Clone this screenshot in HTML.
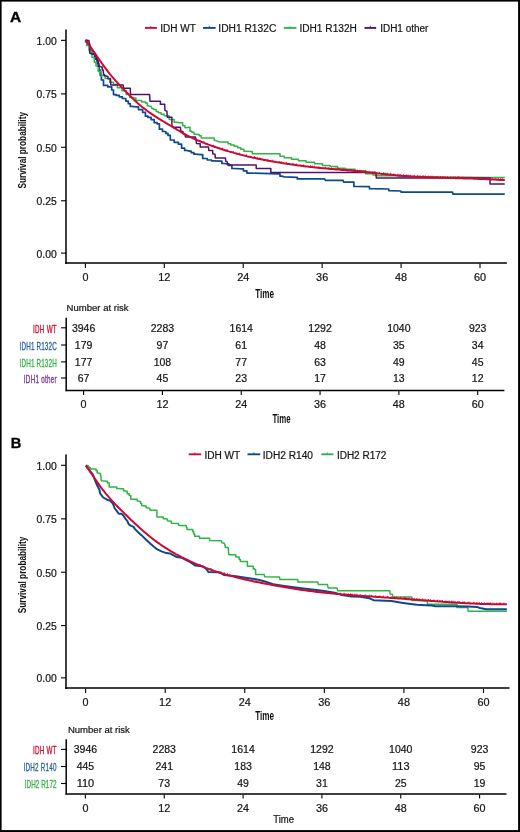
<!DOCTYPE html>
<html><head><meta charset="utf-8"><style>
html,body{margin:0;padding:0;background:#fff;}
body{width:520px;height:832px;overflow:hidden;}
svg{position:absolute;left:0;top:0;will-change:transform;font-family:"Liberation Sans", sans-serif;}
</style></head><body>
<svg width="520" height="832" viewBox="0 0 520 832">
<line x1="66" y1="29.4" x2="66" y2="264" stroke="#000" stroke-width="1.5"/>
<line x1="65.25" y1="263.1" x2="506.9" y2="263.1" stroke="#000" stroke-width="1.5"/>
<line x1="61" y1="40.35" x2="66" y2="40.35" stroke="#000" stroke-width="1.1"/>
<text x="56.8" y="44.75" font-size="10.1" text-anchor="end" fill="#111" font-weight="normal" textLength="20.2" lengthAdjust="spacingAndGlyphs" stroke="#222" stroke-width="0.22" >1.00</text>
<line x1="61" y1="93.9" x2="66" y2="93.9" stroke="#000" stroke-width="1.1"/>
<text x="56.8" y="98.30000000000001" font-size="10.1" text-anchor="end" fill="#111" font-weight="normal" textLength="20.2" lengthAdjust="spacingAndGlyphs" stroke="#222" stroke-width="0.22" >0.75</text>
<line x1="61" y1="147.3" x2="66" y2="147.3" stroke="#000" stroke-width="1.1"/>
<text x="56.8" y="151.70000000000002" font-size="10.1" text-anchor="end" fill="#111" font-weight="normal" textLength="20.2" lengthAdjust="spacingAndGlyphs" stroke="#222" stroke-width="0.22" >0.50</text>
<line x1="61" y1="200.75" x2="66" y2="200.75" stroke="#000" stroke-width="1.1"/>
<text x="56.8" y="205.15" font-size="10.1" text-anchor="end" fill="#111" font-weight="normal" textLength="20.2" lengthAdjust="spacingAndGlyphs" stroke="#222" stroke-width="0.22" >0.25</text>
<line x1="61" y1="253.1" x2="66" y2="253.1" stroke="#000" stroke-width="1.1"/>
<text x="56.8" y="257.5" font-size="10.1" text-anchor="end" fill="#111" font-weight="normal" textLength="20.2" lengthAdjust="spacingAndGlyphs" stroke="#222" stroke-width="0.22" >0.00</text>
<line x1="85.4" y1="263.5" x2="85.4" y2="268" stroke="#000" stroke-width="1.1"/>
<text x="85.4" y="281" font-size="10.1" text-anchor="middle" fill="#111" font-weight="normal" textLength="6.0" lengthAdjust="spacingAndGlyphs" stroke="#222" stroke-width="0.22" >0</text>
<line x1="164.32" y1="263.5" x2="164.32" y2="268" stroke="#000" stroke-width="1.1"/>
<text x="164.32" y="281" font-size="10.1" text-anchor="middle" fill="#111" font-weight="normal" textLength="12.1" lengthAdjust="spacingAndGlyphs" stroke="#222" stroke-width="0.22" >12</text>
<line x1="243.24" y1="263.5" x2="243.24" y2="268" stroke="#000" stroke-width="1.1"/>
<text x="243.24" y="281" font-size="10.1" text-anchor="middle" fill="#111" font-weight="normal" textLength="12.1" lengthAdjust="spacingAndGlyphs" stroke="#222" stroke-width="0.22" >24</text>
<line x1="322.15999999999997" y1="263.5" x2="322.15999999999997" y2="268" stroke="#000" stroke-width="1.1"/>
<text x="322.15999999999997" y="281" font-size="10.1" text-anchor="middle" fill="#111" font-weight="normal" textLength="12.1" lengthAdjust="spacingAndGlyphs" stroke="#222" stroke-width="0.22" >36</text>
<line x1="401.08000000000004" y1="263.5" x2="401.08000000000004" y2="268" stroke="#000" stroke-width="1.1"/>
<text x="401.08000000000004" y="281" font-size="10.1" text-anchor="middle" fill="#111" font-weight="normal" textLength="12.1" lengthAdjust="spacingAndGlyphs" stroke="#222" stroke-width="0.22" >48</text>
<line x1="480.0" y1="263.5" x2="480.0" y2="268" stroke="#000" stroke-width="1.1"/>
<text x="480.0" y="281" font-size="10.1" text-anchor="middle" fill="#111" font-weight="normal" textLength="12.1" lengthAdjust="spacingAndGlyphs" stroke="#222" stroke-width="0.22" >60</text>
<text x="255.2" y="298" font-size="12.6" text-anchor="start" fill="#111" font-weight="bold" textLength="18.8" lengthAdjust="spacingAndGlyphs" >Time</text>
<text transform="translate(25.8,188.6) rotate(-90)" font-size="11.4" font-weight="bold" fill="#111" textLength="76.6" lengthAdjust="spacingAndGlyphs">Survival probability</text>
<text x="10" y="22.4" font-size="14.6" text-anchor="start" fill="#000" font-weight="bold" textLength="11.2" lengthAdjust="spacingAndGlyphs" stroke="#000" stroke-width="0.35">A</text>
<line x1="144.9" y1="27.9" x2="156.9" y2="27.9" stroke="#cc0a36" stroke-width="1.9"/>
<line x1="150.85000000000002" y1="25.9" x2="150.85000000000002" y2="27.9" stroke="#cc0a36" stroke-width="0.8"/>
<text x="160.20000000000002" y="31.5" font-size="10" text-anchor="start" fill="#111" font-weight="normal" textLength="35.6" lengthAdjust="spacingAndGlyphs" stroke="#222" stroke-width="0.22" >IDH WT</text>
<line x1="203.0" y1="27.9" x2="215.6" y2="27.9" stroke="#0c4a8c" stroke-width="1.9"/>
<line x1="209.25" y1="25.9" x2="209.25" y2="27.9" stroke="#0c4a8c" stroke-width="0.8"/>
<text x="218.3" y="31.5" font-size="10" text-anchor="start" fill="#111" font-weight="normal" textLength="58.0" lengthAdjust="spacingAndGlyphs" stroke="#222" stroke-width="0.22" >IDH1 R132C</text>
<line x1="283.8" y1="27.9" x2="296.40000000000003" y2="27.9" stroke="#2fb546" stroke-width="1.9"/>
<line x1="290.05" y1="25.9" x2="290.05" y2="27.9" stroke="#2fb546" stroke-width="0.8"/>
<text x="299.4" y="31.5" font-size="10" text-anchor="start" fill="#111" font-weight="normal" textLength="57.5" lengthAdjust="spacingAndGlyphs" stroke="#222" stroke-width="0.22" >IDH1 R132H</text>
<line x1="364.5" y1="27.9" x2="376.20000000000005" y2="27.9" stroke="#4f1468" stroke-width="1.9"/>
<line x1="370.3" y1="25.9" x2="370.3" y2="27.9" stroke="#4f1468" stroke-width="0.8"/>
<text x="380.2" y="31.5" font-size="10" text-anchor="start" fill="#111" font-weight="normal" textLength="48.2" lengthAdjust="spacingAndGlyphs" stroke="#222" stroke-width="0.22" >IDH1 other</text>
<polyline points="85.5,40.3 86.8,40.3 86.8,44.0 88.0,44.0 89.5,44.0 89.5,50.0 91.0,50.0 92.2,50.0 92.2,54.1 93.5,54.1 95.0,54.1 95.0,59.1 96.6,59.1 97.4,59.1 97.4,63.7 98.2,63.7 99.0,63.7 99.0,70.0 99.7,70.0 100.2,70.0 100.2,75.4 100.8,75.4 101.4,75.4 101.4,80.0 102.0,80.0 103.5,80.0 103.5,85.4 105.1,85.4 107.8,85.4 107.8,86.9 110.5,86.9 111.7,86.9 111.7,90.0 112.8,90.0 113.5,90.0 113.5,94.6 114.3,94.6 116.2,94.6 116.2,95.4 118.2,95.4 119.3,95.4 119.3,96.9 120.5,96.9 122.4,96.9 122.4,98.5 124.3,98.5 125.8,98.5 125.8,101.1 127.3,101.1 128.3,101.1 128.3,103.7 130.3,103.7 130.3,106.3 131.3,106.3 136.5,106.9 138.5,106.9 138.5,109.6 142.6,109.6 142.6,112.3 144.6,112.3 145.4,112.3 145.4,116.2 146.2,116.2 147.9,116.2 147.9,117.3 149.6,117.3 151.1,117.3 151.1,119.6 152.7,119.6 154.2,119.6 154.2,122.7 155.8,122.7 157.2,122.7 157.2,123.8 158.5,123.8 159.4,123.8 159.4,129.2 160.4,129.2 162.5,129.2 162.5,131.5 164.6,131.5 165.8,131.5 165.8,133.4 168.0,133.4 168.0,135.4 169.2,135.4 170.3,135.4 170.3,140.0 171.5,140.0 174.2,140.0 174.2,142.3 176.9,142.3 178.4,142.3 178.4,144.2 180.0,144.2 181.6,144.2 181.6,148.1 183.1,148.1 184.6,148.1 184.6,150.4 186.2,150.4 190.0,151.2 191.2,151.2 191.2,152.7 192.3,152.7 193.9,152.7 193.9,154.2 195.4,154.2 200.8,154.6 202.7,154.6 202.7,158.5 204.6,158.5 207.3,158.5 207.3,160.0 210.0,160.0 211.6,160.0 211.6,160.8 213.1,160.8 220.0,161.2 221.9,161.2 221.9,163.5 223.8,163.5 226.9,163.8 228.9,163.8 228.9,165.4 230.8,165.4 231.9,165.4 231.9,168.5 233.1,168.5 242.3,168.8 243.4,168.8 243.4,170.8 244.6,170.8 246.9,170.8 246.9,173.1 249.2,173.1 278.5,173.8 280.0,173.8 280.0,176.2 281.5,176.2 284.6,176.9 296.9,177.4 297.3,177.4 297.3,178.9 297.7,178.9 324.6,178.9 325.4,180.4 343.1,180.4 343.8,182.2 352.3,182.2 353.9,182.2 353.9,186.5 355.4,186.5 369.0,186.7 369.5,186.7 369.5,188.7 370.0,188.7 388.3,189.0 388.8,189.0 388.8,190.6 389.2,190.6 400.8,191.0 401.2,192.1 452.5,192.1 452.9,194.1 504.8,194.1" fill="none" stroke="#0c4a8c" stroke-width="1.7" stroke-linejoin="round" stroke-linecap="butt" />
<polyline points="85.5,40.3 85.5,42.2 86.7,42.2 86.7,45.6 87.8,45.6 89.3,45.6 89.3,51.0 90.8,51.0 92.0,51.0 92.0,57.5 93.2,57.5 94.3,57.5 94.3,62.2 95.5,62.2 96.0,62.2 96.0,66.0 96.6,66.0 98.2,66.0 98.2,71.5 99.7,71.5 101.2,71.5 101.2,75.4 102.8,75.4 105.1,75.4 105.1,78.5 107.4,78.5 109.7,78.5 109.7,82.3 112.0,82.3 113.5,82.3 113.5,84.6 115.1,84.6 117.4,84.6 117.4,87.7 119.7,87.7 122.0,87.7 122.0,90.8 124.3,90.8 126.2,90.8 126.2,94.6 128.2,94.6 129.7,94.6 129.7,97.5 131.2,97.5 133.0,97.9 135.9,97.9 135.9,100.6 138.8,100.6 141.7,100.6 141.7,102.0 144.6,102.0 145.6,102.0 145.6,103.1 146.5,103.1 147.3,103.1 147.3,105.8 148.1,105.8 151.2,106.5 151.9,108.5 153.4,108.5 153.4,109.6 155.0,109.6 156.2,109.6 156.2,111.5 157.3,111.5 158.4,111.5 158.4,112.7 159.6,112.7 161.1,112.7 161.1,114.2 162.7,114.2 164.2,114.2 164.2,115.8 165.8,115.8 169.2,115.8 169.2,119.6 172.7,119.6 174.2,119.6 174.2,122.3 175.8,122.3 180.4,122.7 181.5,122.7 182.7,122.7 182.7,125.8 183.8,125.8 185.0,125.8 185.0,127.7 186.2,127.7 189.2,127.3 190.0,127.3 190.0,131.2 190.8,131.2 191.9,131.2 191.9,132.3 193.1,132.3 194.1,132.3 194.1,134.2 195.0,134.2 198.5,134.6 199.2,134.6 199.2,135.8 200.0,135.8 201.2,135.8 201.2,138.1 202.3,138.1 213.1,138.1 214.2,138.1 214.2,140.4 215.4,140.4 217.7,141.2 219.2,141.9 226.9,141.9 228.1,141.9 228.1,143.8 229.2,143.8 230.8,143.8 230.8,145.0 232.3,145.0 234.2,145.0 234.2,146.2 236.2,146.2 237.7,146.2 237.7,147.7 239.2,147.7 240.8,147.7 240.8,149.2 242.3,149.2 243.9,149.2 243.9,151.2 245.4,151.2 251.5,151.5 252.3,151.5 252.3,153.8 253.1,153.8 279.2,153.8 280.0,153.8 280.0,156.2 280.8,156.2 284.2,156.2 284.2,157.7 287.7,157.7 291.5,157.7 291.5,159.2 295.4,159.2 298.4,159.2 298.4,160.8 301.5,160.8 306.1,160.8 306.1,162.3 310.8,162.3 314.6,162.3 314.6,163.8 318.5,163.8 322.4,163.8 322.4,165.4 326.2,165.4 330.0,165.4 330.0,166.6 333.8,166.6 337.6,166.6 337.6,168.2 341.5,168.2 345.4,168.2 345.4,169.2 349.2,169.2 355.2,169.2 355.2,170.8 361.3,170.8 365.6,170.8 365.6,173.7 370.0,173.7 372.9,173.7 372.9,175.0 375.8,175.0 376.8,175.0 376.8,175.8 377.7,175.8 398.9,175.8 398.9,176.8 420.0,176.8 489.2,177.6 504.8,177.6" fill="none" stroke="#2fb546" stroke-width="1.5" stroke-linejoin="round" stroke-linecap="butt" />
<polyline points="85.3,40.2 88.9,40.6 89.7,45.6 89.7,53.3 91.2,53.3 91.2,54.1 92.6,54.1 94.5,54.1 94.5,56.2 96.4,56.2 96.9,61.0 98.3,61.0 98.3,66.2 99.7,66.2 101.2,66.9 102.2,66.9 102.2,70.0 103.2,70.0 103.5,74.6 104.5,74.6 104.5,75.8 105.5,75.8 107.4,76.5 108.0,76.5 108.0,78.8 108.5,78.8 110.5,78.6 110.8,85.0 123.2,85.0 123.5,88.3 130.3,88.3 130.5,94.6 149.6,94.6 150.0,101.2 160.4,101.2 160.4,104.2 164.6,104.2 165.0,110.4 166.9,111.2 167.3,117.3 171.2,117.3 171.9,117.3 171.9,126.2 172.7,126.2 173.1,127.3 180.4,127.3 180.8,131.2 182.3,131.5 182.9,131.5 182.9,133.8 183.5,133.8 185.0,134.2 185.4,136.9 195.0,136.9 195.4,136.9 195.4,138.1 195.8,138.1 196.5,143.5 199.6,143.8 200.2,143.8 200.2,146.9 200.8,146.9 208.5,146.9 208.8,150.4 212.7,150.4 212.7,153.8 215.0,154.2 215.4,158.1 225.4,158.1 225.8,161.2 227.3,161.9 227.7,165.0 256.2,165.0 256.2,168.5 270.8,168.5 270.8,172.4 375.8,172.6 376.3,178.0 490.0,178.0 490.0,184.1 504.8,184.1" fill="none" stroke="#4f1468" stroke-width="1.5" stroke-linejoin="round" stroke-linecap="butt" />
<polyline points="85.5,40.3 87.0,42.2 88.5,44.2 90.0,46.2 91.5,48.3 93.0,50.5 94.5,52.6 96.0,54.8 97.5,57.0 99.0,59.2 100.5,61.4 102.0,63.5 103.5,65.6 105.0,67.7 106.5,69.7 108.0,71.7 109.5,73.6 111.0,75.4 112.5,77.2 114.0,78.9 115.5,80.6 117.0,82.3 118.5,83.9 120.0,85.5 121.5,87.1 123.0,88.6 124.5,90.2 126.0,91.8 127.5,93.3 129.0,94.8 130.5,96.3 132.0,97.8 133.5,99.3 135.0,100.7 136.5,102.1 138.0,103.4 139.5,104.7 141.0,106.0 142.5,107.2 144.0,108.4 145.5,109.5 147.0,110.7 148.5,111.8 150.0,112.8 151.5,113.9 153.0,114.9 154.5,115.9 156.0,116.8 157.5,117.8 159.0,118.8 160.5,119.7 162.0,120.6 163.5,121.5 165.0,122.4 166.5,123.3 168.0,124.2 169.5,125.1 171.0,126.0 172.5,126.9 174.0,127.8 175.5,128.7 177.0,129.6 178.5,130.5 180.0,131.4 181.5,132.3 183.0,133.1 184.5,134.0 186.0,134.8 187.5,135.6 189.0,136.4 190.5,137.1 192.0,137.8 193.5,138.5 195.0,139.2 196.5,139.8 198.0,140.5 199.5,141.1 201.0,141.7 202.5,142.3 204.0,142.9 205.5,143.5 207.0,144.0 208.5,144.6 210.0,145.1 211.5,145.7 213.0,146.2 214.5,146.7 216.0,147.3 217.5,147.8 219.0,148.3 220.5,148.8 222.0,149.2 223.5,149.7 225.0,150.2 226.5,150.7 228.0,151.1 229.5,151.6 231.0,152.0 232.5,152.4 234.0,152.9 235.5,153.3 237.0,153.7 238.5,154.1 240.0,154.5 241.5,154.9 243.0,155.3 244.5,155.6 246.0,156.0 247.5,156.4 249.0,156.7 250.5,157.0 252.0,157.4 253.5,157.7 255.0,158.0 256.5,158.4 258.0,158.7 259.5,159.0 261.0,159.3 262.5,159.6 264.0,159.9 265.5,160.1 267.0,160.4 268.5,160.7 270.0,160.9 271.5,161.2 273.0,161.5 274.5,161.7 276.0,162.0 277.5,162.2 279.0,162.5 280.5,162.7 282.0,163.0 283.5,163.2 285.0,163.4 286.5,163.7 288.0,163.9 289.5,164.1 291.0,164.4 292.5,164.6 294.0,164.8 295.5,165.0 297.0,165.2 298.5,165.4 300.0,165.6 301.5,165.8 303.0,166.0 304.5,166.2 306.0,166.4 307.5,166.6 309.0,166.8 310.5,166.9 312.0,167.1 313.5,167.3 315.0,167.4 316.5,167.6 318.0,167.8 319.5,167.9 321.0,168.0 322.5,168.2 324.0,168.3 325.5,168.5 327.0,168.6 328.5,168.7 330.0,168.9 331.5,169.0 333.0,169.1 334.5,169.2 336.0,169.4 337.5,169.5 339.0,169.6 340.5,169.7 342.0,169.9 343.5,170.0 345.0,170.1 346.5,170.2 348.0,170.4 349.5,170.5 351.0,170.6 352.5,170.8 354.0,170.9 355.5,171.0 357.0,171.2 358.5,171.3 360.0,171.5 361.5,171.6 363.0,171.8 364.5,171.9 366.0,172.1 367.5,172.3 369.0,172.4 370.5,172.6 372.0,172.7 373.5,172.9 375.0,173.1 376.5,173.2 378.0,173.4 379.5,173.6 381.0,173.7 382.5,173.9 384.0,174.1 385.5,174.2 387.0,174.4 388.5,174.5 390.0,174.7 391.5,174.8 393.0,175.0 394.5,175.1 396.0,175.3 397.5,175.4 399.0,175.5 400.5,175.6 402.0,175.8 403.5,175.9 405.0,176.0 406.5,176.1 408.0,176.2 409.5,176.3 411.0,176.4 412.5,176.5 414.0,176.6 415.5,176.7 417.0,176.7 418.5,176.8 420.0,176.9 421.5,177.0 423.0,177.1 424.5,177.1 426.0,177.2 427.5,177.2 429.0,177.3 430.5,177.4 432.0,177.4 433.5,177.5 435.0,177.5 436.5,177.6 438.0,177.6 439.5,177.7 441.0,177.7 442.5,177.8 444.0,177.8 445.5,177.9 447.0,177.9 448.5,178.0 450.0,178.0 451.5,178.0 453.0,178.1 454.5,178.1 456.0,178.2 457.5,178.2 459.0,178.2 460.5,178.3 462.0,178.3 463.5,178.4 465.0,178.4 466.5,178.5 468.0,178.5 469.5,178.6 471.0,178.6 472.5,178.6 474.0,178.7 475.5,178.7 477.0,178.8 478.5,178.9 480.0,178.9 481.5,179.0 483.0,179.0 484.5,179.1 486.0,179.2 487.5,179.2 489.0,179.3 490.5,179.4 492.0,179.4 493.5,179.5 495.0,179.6 496.5,179.7 498.0,179.8 499.5,179.9 501.0,179.9 502.5,180.0 504.0,180.1 504.8,180.2" fill="none" stroke="#cc0a36" stroke-width="2.0" stroke-linejoin="round" stroke-linecap="butt" />
<path d="M200.0,141.3V139.6M203.9,142.9V141.2M213.7,146.5V144.8M222.5,149.4V147.7M227.1,150.8V149.1M233.4,152.7V151.0M239.3,154.3V152.6M246.5,156.1V154.4M254.5,157.9V156.2M257.4,158.6V156.9M259.9,159.1V157.4M267.8,160.6V158.9M272.8,161.4V159.7M279.8,162.6V160.9M281.9,162.9V161.2M286.6,163.7V162.0M293.0,164.6V162.9M296.3,165.1V163.4M303.6,166.1V164.4M310.4,166.9V165.2M312.4,167.2V165.5M314.3,167.4V165.7M318.9,167.8V166.1M325.4,168.5V166.8M328.9,168.8V167.1M331.6,169.0V167.3M335.2,169.3V167.6M336.9,169.4V167.7M339.4,169.7V168.0M343.0,170.0V168.3M346.7,170.3V168.6M349.1,170.5V168.8M351.5,170.7V169.0M353.9,170.9V169.2M357.2,171.2V169.5M359.7,171.4V169.7M361.1,171.6V169.9M365.7,172.1V170.4M369.1,172.4V170.7M372.8,172.8V171.1M374.7,173.0V171.3M379.4,173.6V171.9M383.5,174.0V172.3M385.0,174.2V172.5M387.2,174.4V172.7M390.6,174.7V173.0M393.9,175.1V173.4M397.8,175.4V173.7M400.0,175.6V173.9M403.4,175.9V174.2M406.3,176.1V174.4M408.1,176.2V174.5M410.7,176.4V174.7M414.2,176.6V174.9M417.6,176.8V175.1M420.1,176.9V175.2M422.7,177.0V175.3M423.8,177.1V175.4M425.4,177.2V175.5M428.7,177.3V175.6M430.8,177.4V175.7M432.3,177.4V175.7M434.8,177.5V175.8M437.8,177.6V175.9M440.7,177.7V176.0M442.8,177.8V176.1M445.0,177.9V176.2M447.4,177.9V176.2M450.6,178.0V176.3M453.1,178.1V176.4M455.2,178.1V176.4M457.5,178.2V176.5M458.6,178.2V176.5M459.7,178.3V176.6M462.7,178.3V176.6M466.4,178.5V176.8M469.1,178.5V176.8M471.2,178.6V176.9M472.7,178.7V177.0M475.1,178.7V177.0M478.9,178.9V177.2M482.0,179.0V177.3M484.5,179.1V177.4M488.0,179.2V177.5M489.6,179.3V177.6M492.1,179.4V177.7M495.8,179.6V177.9M498.4,179.8V178.1M500.7,179.9V178.2M502.4,180.0V178.3" stroke="#cc0a36" stroke-width="0.9" fill="none"/>
<text x="66.6" y="310.7" font-size="9.6" text-anchor="start" fill="#111" font-weight="normal" textLength="62" lengthAdjust="spacingAndGlyphs" stroke="#222" stroke-width="0.22" >Number at risk</text>
<line x1="66.2" y1="317.7" x2="66.2" y2="391.2" stroke="#000" stroke-width="1.5"/>
<line x1="65.5" y1="390.5" x2="504.4" y2="390.5" stroke="#000" stroke-width="1.5"/>
<line x1="61" y1="327.8" x2="66" y2="327.8" stroke="#000" stroke-width="1.1"/>
<text transform="translate(33.00,332.70) scale(0.6,1)" x="0" y="0" font-size="10.5" fill="#c8102e" stroke="#c8102e" stroke-width="0.35" textLength="39.5" lengthAdjust="spacing">IDH WT</text>
<text x="83.6" y="331.6" font-size="10.1" text-anchor="middle" fill="#111" font-weight="normal" textLength="23.4" lengthAdjust="spacingAndGlyphs" stroke="#222" stroke-width="0.22" >3946</text>
<text x="162.42" y="331.6" font-size="10.1" text-anchor="middle" fill="#111" font-weight="normal" textLength="23.4" lengthAdjust="spacingAndGlyphs" stroke="#222" stroke-width="0.22" >2283</text>
<text x="241.23999999999998" y="331.6" font-size="10.1" text-anchor="middle" fill="#111" font-weight="normal" textLength="23.4" lengthAdjust="spacingAndGlyphs" stroke="#222" stroke-width="0.22" >1614</text>
<text x="320.05999999999995" y="331.6" font-size="10.1" text-anchor="middle" fill="#111" font-weight="normal" textLength="23.4" lengthAdjust="spacingAndGlyphs" stroke="#222" stroke-width="0.22" >1292</text>
<text x="398.88" y="331.6" font-size="10.1" text-anchor="middle" fill="#111" font-weight="normal" textLength="23.4" lengthAdjust="spacingAndGlyphs" stroke="#222" stroke-width="0.22" >1040</text>
<text x="477.69999999999993" y="331.6" font-size="10.1" text-anchor="middle" fill="#111" font-weight="normal" textLength="17.5" lengthAdjust="spacingAndGlyphs" stroke="#222" stroke-width="0.22" >923</text>
<line x1="61" y1="345.0" x2="66" y2="345.0" stroke="#000" stroke-width="1.1"/>
<text transform="translate(19.60,349.90) scale(0.6,1)" x="0" y="0" font-size="10.5" fill="#2a64a3" stroke="#2a64a3" stroke-width="0.35" textLength="61.8" lengthAdjust="spacing">IDH1 R132C</text>
<text x="83.6" y="348.8" font-size="10.1" text-anchor="middle" fill="#111" font-weight="normal" textLength="17.5" lengthAdjust="spacingAndGlyphs" stroke="#222" stroke-width="0.22" >179</text>
<text x="162.42" y="348.8" font-size="10.1" text-anchor="middle" fill="#111" font-weight="normal" textLength="11.7" lengthAdjust="spacingAndGlyphs" stroke="#222" stroke-width="0.22" >97</text>
<text x="241.23999999999998" y="348.8" font-size="10.1" text-anchor="middle" fill="#111" font-weight="normal" textLength="11.7" lengthAdjust="spacingAndGlyphs" stroke="#222" stroke-width="0.22" >61</text>
<text x="320.05999999999995" y="348.8" font-size="10.1" text-anchor="middle" fill="#111" font-weight="normal" textLength="11.7" lengthAdjust="spacingAndGlyphs" stroke="#222" stroke-width="0.22" >48</text>
<text x="398.88" y="348.8" font-size="10.1" text-anchor="middle" fill="#111" font-weight="normal" textLength="11.7" lengthAdjust="spacingAndGlyphs" stroke="#222" stroke-width="0.22" >35</text>
<text x="477.69999999999993" y="348.8" font-size="10.1" text-anchor="middle" fill="#111" font-weight="normal" textLength="11.7" lengthAdjust="spacingAndGlyphs" stroke="#222" stroke-width="0.22" >34</text>
<line x1="61" y1="361.9" x2="66" y2="361.9" stroke="#000" stroke-width="1.1"/>
<text transform="translate(19.60,366.80) scale(0.6,1)" x="0" y="0" font-size="10.5" fill="#37b34a" stroke="#37b34a" stroke-width="0.35" textLength="61.8" lengthAdjust="spacing">IDH1 R132H</text>
<text x="83.6" y="365.7" font-size="10.1" text-anchor="middle" fill="#111" font-weight="normal" textLength="17.5" lengthAdjust="spacingAndGlyphs" stroke="#222" stroke-width="0.22" >177</text>
<text x="162.42" y="365.7" font-size="10.1" text-anchor="middle" fill="#111" font-weight="normal" textLength="17.5" lengthAdjust="spacingAndGlyphs" stroke="#222" stroke-width="0.22" >108</text>
<text x="241.23999999999998" y="365.7" font-size="10.1" text-anchor="middle" fill="#111" font-weight="normal" textLength="11.7" lengthAdjust="spacingAndGlyphs" stroke="#222" stroke-width="0.22" >77</text>
<text x="320.05999999999995" y="365.7" font-size="10.1" text-anchor="middle" fill="#111" font-weight="normal" textLength="11.7" lengthAdjust="spacingAndGlyphs" stroke="#222" stroke-width="0.22" >63</text>
<text x="398.88" y="365.7" font-size="10.1" text-anchor="middle" fill="#111" font-weight="normal" textLength="11.7" lengthAdjust="spacingAndGlyphs" stroke="#222" stroke-width="0.22" >49</text>
<text x="477.69999999999993" y="365.7" font-size="10.1" text-anchor="middle" fill="#111" font-weight="normal" textLength="11.7" lengthAdjust="spacingAndGlyphs" stroke="#222" stroke-width="0.22" >45</text>
<line x1="61" y1="378.0" x2="66" y2="378.0" stroke="#000" stroke-width="1.1"/>
<text transform="translate(23.80,382.90) scale(0.6,1)" x="0" y="0" font-size="10.5" fill="#74368f" stroke="#74368f" stroke-width="0.35" textLength="54.8" lengthAdjust="spacing">IDH1 other</text>
<text x="83.6" y="381.8" font-size="10.1" text-anchor="middle" fill="#111" font-weight="normal" textLength="11.7" lengthAdjust="spacingAndGlyphs" stroke="#222" stroke-width="0.22" >67</text>
<text x="162.42" y="381.8" font-size="10.1" text-anchor="middle" fill="#111" font-weight="normal" textLength="11.7" lengthAdjust="spacingAndGlyphs" stroke="#222" stroke-width="0.22" >45</text>
<text x="241.23999999999998" y="381.8" font-size="10.1" text-anchor="middle" fill="#111" font-weight="normal" textLength="11.7" lengthAdjust="spacingAndGlyphs" stroke="#222" stroke-width="0.22" >23</text>
<text x="320.05999999999995" y="381.8" font-size="10.1" text-anchor="middle" fill="#111" font-weight="normal" textLength="11.7" lengthAdjust="spacingAndGlyphs" stroke="#222" stroke-width="0.22" >17</text>
<text x="398.88" y="381.8" font-size="10.1" text-anchor="middle" fill="#111" font-weight="normal" textLength="11.7" lengthAdjust="spacingAndGlyphs" stroke="#222" stroke-width="0.22" >13</text>
<text x="477.69999999999993" y="381.8" font-size="10.1" text-anchor="middle" fill="#111" font-weight="normal" textLength="11.7" lengthAdjust="spacingAndGlyphs" stroke="#222" stroke-width="0.22" >12</text>
<line x1="83.6" y1="391" x2="83.6" y2="395" stroke="#000" stroke-width="1.1"/>
<text x="83.6" y="408.2" font-size="10.2" text-anchor="middle" fill="#111" font-weight="normal" textLength="6.0" lengthAdjust="spacingAndGlyphs" stroke="#222" stroke-width="0.22" >0</text>
<line x1="162.42" y1="391" x2="162.42" y2="395" stroke="#000" stroke-width="1.1"/>
<text x="162.42" y="408.2" font-size="10.2" text-anchor="middle" fill="#111" font-weight="normal" textLength="12.0" lengthAdjust="spacingAndGlyphs" stroke="#222" stroke-width="0.22" >12</text>
<line x1="241.23999999999998" y1="391" x2="241.23999999999998" y2="395" stroke="#000" stroke-width="1.1"/>
<text x="241.23999999999998" y="408.2" font-size="10.2" text-anchor="middle" fill="#111" font-weight="normal" textLength="12.0" lengthAdjust="spacingAndGlyphs" stroke="#222" stroke-width="0.22" >24</text>
<line x1="320.05999999999995" y1="391" x2="320.05999999999995" y2="395" stroke="#000" stroke-width="1.1"/>
<text x="320.05999999999995" y="408.2" font-size="10.2" text-anchor="middle" fill="#111" font-weight="normal" textLength="12.0" lengthAdjust="spacingAndGlyphs" stroke="#222" stroke-width="0.22" >36</text>
<line x1="398.88" y1="391" x2="398.88" y2="395" stroke="#000" stroke-width="1.1"/>
<text x="398.88" y="408.2" font-size="10.2" text-anchor="middle" fill="#111" font-weight="normal" textLength="12.0" lengthAdjust="spacingAndGlyphs" stroke="#222" stroke-width="0.22" >48</text>
<line x1="477.69999999999993" y1="391" x2="477.69999999999993" y2="395" stroke="#000" stroke-width="1.1"/>
<text x="477.69999999999993" y="408.2" font-size="10.2" text-anchor="middle" fill="#111" font-weight="normal" textLength="12.0" lengthAdjust="spacingAndGlyphs" stroke="#222" stroke-width="0.22" >60</text>
<text x="272.4" y="423.1" font-size="12.3" text-anchor="start" fill="#111" font-weight="bold" textLength="18.2" lengthAdjust="spacingAndGlyphs" >Time</text>
<line x1="66" y1="454.5" x2="66" y2="689" stroke="#000" stroke-width="1.5"/>
<line x1="65.25" y1="688.0" x2="509.5" y2="688.0" stroke="#000" stroke-width="1.5"/>
<line x1="61" y1="465.3" x2="66" y2="465.3" stroke="#000" stroke-width="1.1"/>
<text x="56.8" y="469.7" font-size="10.1" text-anchor="end" fill="#111" font-weight="normal" textLength="20.2" lengthAdjust="spacingAndGlyphs" stroke="#222" stroke-width="0.22" >1.00</text>
<line x1="61" y1="518.85" x2="66" y2="518.85" stroke="#000" stroke-width="1.1"/>
<text x="56.8" y="523.25" font-size="10.1" text-anchor="end" fill="#111" font-weight="normal" textLength="20.2" lengthAdjust="spacingAndGlyphs" stroke="#222" stroke-width="0.22" >0.75</text>
<line x1="61" y1="572.2" x2="66" y2="572.2" stroke="#000" stroke-width="1.1"/>
<text x="56.8" y="576.6" font-size="10.1" text-anchor="end" fill="#111" font-weight="normal" textLength="20.2" lengthAdjust="spacingAndGlyphs" stroke="#222" stroke-width="0.22" >0.50</text>
<line x1="61" y1="625.6" x2="66" y2="625.6" stroke="#000" stroke-width="1.1"/>
<text x="56.8" y="630.0" font-size="10.1" text-anchor="end" fill="#111" font-weight="normal" textLength="20.2" lengthAdjust="spacingAndGlyphs" stroke="#222" stroke-width="0.22" >0.25</text>
<line x1="61" y1="677.85" x2="66" y2="677.85" stroke="#000" stroke-width="1.1"/>
<text x="56.8" y="682.25" font-size="10.1" text-anchor="end" fill="#111" font-weight="normal" textLength="20.2" lengthAdjust="spacingAndGlyphs" stroke="#222" stroke-width="0.22" >0.00</text>
<line x1="85.6" y1="688.5" x2="85.6" y2="693" stroke="#000" stroke-width="1.1"/>
<text x="85.6" y="705.5" font-size="10.1" text-anchor="middle" fill="#111" font-weight="normal" textLength="6.0" lengthAdjust="spacingAndGlyphs" stroke="#222" stroke-width="0.22" >0</text>
<line x1="165.18" y1="688.5" x2="165.18" y2="693" stroke="#000" stroke-width="1.1"/>
<text x="165.18" y="705.5" font-size="10.1" text-anchor="middle" fill="#111" font-weight="normal" textLength="12.1" lengthAdjust="spacingAndGlyphs" stroke="#222" stroke-width="0.22" >12</text>
<line x1="244.76" y1="688.5" x2="244.76" y2="693" stroke="#000" stroke-width="1.1"/>
<text x="244.76" y="705.5" font-size="10.1" text-anchor="middle" fill="#111" font-weight="normal" textLength="12.1" lengthAdjust="spacingAndGlyphs" stroke="#222" stroke-width="0.22" >24</text>
<line x1="324.34000000000003" y1="688.5" x2="324.34000000000003" y2="693" stroke="#000" stroke-width="1.1"/>
<text x="324.34000000000003" y="705.5" font-size="10.1" text-anchor="middle" fill="#111" font-weight="normal" textLength="12.1" lengthAdjust="spacingAndGlyphs" stroke="#222" stroke-width="0.22" >36</text>
<line x1="403.91999999999996" y1="688.5" x2="403.91999999999996" y2="693" stroke="#000" stroke-width="1.1"/>
<text x="403.91999999999996" y="705.5" font-size="10.1" text-anchor="middle" fill="#111" font-weight="normal" textLength="12.1" lengthAdjust="spacingAndGlyphs" stroke="#222" stroke-width="0.22" >48</text>
<line x1="483.5" y1="688.5" x2="483.5" y2="693" stroke="#000" stroke-width="1.1"/>
<text x="483.5" y="705.5" font-size="10.1" text-anchor="middle" fill="#111" font-weight="normal" textLength="12.1" lengthAdjust="spacingAndGlyphs" stroke="#222" stroke-width="0.22" >60</text>
<text x="255.2" y="720.4" font-size="12.6" text-anchor="start" fill="#111" font-weight="bold" textLength="18.8" lengthAdjust="spacingAndGlyphs" >Time</text>
<text transform="translate(25.8,613.3) rotate(-90)" font-size="11.4" font-weight="bold" fill="#111" textLength="76.6" lengthAdjust="spacingAndGlyphs">Survival probability</text>
<text x="10.7" y="448.2" font-size="14.8" text-anchor="start" fill="#000" font-weight="bold" textLength="10.6" lengthAdjust="spacingAndGlyphs" stroke="#000" stroke-width="0.35">B</text>
<line x1="188.7" y1="454.3" x2="201.1" y2="454.3" stroke="#cc0a36" stroke-width="1.9"/>
<line x1="194.85" y1="452.3" x2="194.85" y2="454.3" stroke="#cc0a36" stroke-width="0.8"/>
<text x="204.4" y="458.5" font-size="10" text-anchor="start" fill="#111" font-weight="normal" textLength="35.9" lengthAdjust="spacingAndGlyphs" stroke="#222" stroke-width="0.22" >IDH WT</text>
<line x1="247.5" y1="454.3" x2="260.20000000000005" y2="454.3" stroke="#0c4a8c" stroke-width="1.9"/>
<line x1="253.8" y1="452.3" x2="253.8" y2="454.3" stroke="#0c4a8c" stroke-width="0.8"/>
<text x="262.8" y="458.5" font-size="10" text-anchor="start" fill="#111" font-weight="normal" textLength="50.2" lengthAdjust="spacingAndGlyphs" stroke="#222" stroke-width="0.22" >IDH2 R140</text>
<line x1="321.4" y1="454.3" x2="333.40000000000003" y2="454.3" stroke="#2fb546" stroke-width="1.9"/>
<line x1="327.35" y1="452.3" x2="327.35" y2="454.3" stroke="#2fb546" stroke-width="0.8"/>
<text x="336.90000000000003" y="458.5" font-size="10" text-anchor="start" fill="#111" font-weight="normal" textLength="49.4" lengthAdjust="spacingAndGlyphs" stroke="#222" stroke-width="0.22" >IDH2 R172</text>
<polyline points="85.9,465.3 87.8,465.8 88.3,465.8 88.3,467.2 88.8,467.2 90.0,467.2 90.0,469.1 91.2,469.1 95.5,469.1 96.0,469.1 96.0,470.6 96.5,470.6 97.2,470.6 97.2,473.0 97.9,473.0 100.3,473.5 100.8,475.9 101.3,480.7 106.6,481.2 107.5,481.2 107.5,483.1 108.5,483.1 109.2,483.1 109.2,486.9 110.0,486.9 115.7,486.9 116.7,486.9 116.7,488.4 117.7,488.4 122.5,488.8 123.5,488.8 123.5,490.8 124.4,490.8 126.3,491.2 127.2,491.2 127.2,493.7 128.2,493.7 129.2,493.7 129.2,495.4 130.2,495.4 130.8,495.4 130.8,499.2 136.7,499.2 137.2,499.2 137.2,501.1 137.7,501.1 140.1,501.5 140.6,501.5 140.6,503.5 141.1,503.5 141.6,503.5 141.6,505.4 142.0,505.4 145.4,505.9 146.1,505.9 146.1,507.8 146.8,507.8 149.7,508.3 150.2,510.2 156.4,510.2 156.9,510.2 156.9,516.9 157.4,516.9 162.7,516.9 163.2,516.9 163.2,518.8 163.7,518.8 167.0,518.8 167.5,520.8 170.9,521.3 171.4,521.3 171.4,523.3 171.8,523.3 178.4,523.5 178.8,525.4 186.1,525.4 186.5,527.5 187.0,527.5 187.0,529.6 187.5,529.6 192.3,529.6 192.8,529.6 192.8,531.8 193.3,531.8 193.8,531.8 193.8,534.2 194.2,534.2 194.7,534.2 194.7,536.3 195.2,536.3 199.0,536.3 199.5,536.3 199.5,538.3 200.0,538.3 209.1,538.3 209.6,538.3 209.6,540.5 210.1,540.5 221.4,540.7 221.9,542.7 224.3,543.2 224.8,545.1 225.3,545.1 225.3,547.5 225.8,547.5 228.2,547.5 228.7,554.7 235.4,554.7 235.9,554.7 235.9,557.1 236.3,557.1 238.8,557.1 239.2,557.1 239.2,559.5 239.7,559.5 240.4,559.5 240.4,561.4 241.2,561.4 246.9,561.4 247.4,561.4 247.4,566.3 247.9,566.3 252.7,566.3 253.2,566.3 253.2,568.7 253.7,568.7 254.4,568.7 254.4,569.6 255.1,569.6 255.6,569.6 255.6,574.4 256.1,574.4 264.2,574.4 264.7,576.8 279.4,576.9 280.0,579.6 297.7,579.6 298.1,582.1 317.9,582.1 318.5,584.6 327.5,584.6 328.1,587.9 337.1,587.9 337.7,590.8 389.8,590.8 390.1,594.0 392.5,594.2 392.7,596.9 411.7,597.1 412.1,600.6 427.3,600.8 427.5,604.2 456.9,604.3 456.9,607.4 467.7,607.4 468.2,611.2 506.9,611.2" fill="none" stroke="#2fb546" stroke-width="1.5" stroke-linejoin="round" stroke-linecap="butt" />
<polyline points="85.9,465.6 87.8,468.3 89.8,470.6 92.7,474.4 94.6,479.2 96.5,484.0 99.4,489.8 100.3,493.7 103.2,497.5 107.1,499.7 110.0,500.5 112.9,503.7 114.8,508.5 116.7,510.9 118.7,513.8 121.5,513.8 123.5,515.7 125.4,518.6 127.3,521.0 128.8,524.3 131.2,525.8 133.6,526.9 135.0,529.1 137.9,532.0 141.7,535.4 145.6,539.2 149.4,542.8 151.3,544.5 156.9,549.2 161.5,551.4 166.5,553.1 170.0,553.4 175.8,556.7 181.5,557.7 189.2,561.5 195.0,565.4 202.7,566.3 206.5,569.2 208.5,572.1 218.1,572.3 220.0,572.5 223.8,574.9 229.6,575.4 239.2,576.8 248.8,578.3 258.5,579.7 265.0,581.5 274.6,584.6 284.2,586.0 303.5,588.5 322.7,590.8 336.2,593.1 341.9,595.0 351.5,596.5 360.0,596.8 369.6,598.3 373.5,600.2 391.5,601.1 403.1,602.9 416.9,604.8 426.1,605.2 431.9,605.5 435.4,606.3 455.4,606.3 467.7,606.5 476.9,606.9 480.0,608.0 486.2,609.2 506.9,609.2" fill="none" stroke="#0c4a8c" stroke-width="2.0" stroke-linejoin="round" stroke-linecap="butt" />
<polyline points="85.9,465.4 87.4,467.6 88.9,469.8 90.4,472.1 91.9,474.3 93.4,476.5 94.9,478.7 96.4,480.9 97.9,483.1 99.4,485.2 100.9,487.3 102.4,489.3 103.9,491.2 105.4,493.1 106.9,494.9 108.4,496.7 109.9,498.4 111.4,500.1 112.9,501.8 114.4,503.4 115.9,504.9 117.4,506.5 118.9,508.0 120.4,509.5 121.9,510.9 123.4,512.4 124.9,513.9 126.4,515.3 127.9,516.8 129.4,518.2 130.9,519.7 132.4,521.1 133.9,522.5 135.4,523.9 136.9,525.3 138.4,526.7 139.9,528.1 141.4,529.4 142.9,530.7 144.4,532.0 145.9,533.3 147.4,534.6 148.9,535.8 150.4,537.0 151.9,538.2 153.4,539.4 154.9,540.5 156.4,541.6 157.9,542.7 159.4,543.7 160.9,544.8 162.4,545.8 163.9,546.8 165.4,547.8 166.9,548.7 168.4,549.7 169.9,550.6 171.4,551.5 172.9,552.4 174.4,553.2 175.9,554.1 177.4,554.9 178.9,555.7 180.4,556.5 181.9,557.3 183.4,558.0 184.9,558.8 186.4,559.5 187.9,560.2 189.4,560.9 190.9,561.6 192.4,562.3 193.9,563.0 195.4,563.6 196.9,564.3 198.4,564.9 199.9,565.5 201.4,566.1 202.9,566.7 204.4,567.3 205.9,567.9 207.4,568.4 208.9,569.0 210.4,569.5 211.9,570.0 213.4,570.6 214.9,571.1 216.4,571.6 217.9,572.1 219.4,572.5 220.9,573.0 222.4,573.5 223.9,573.9 225.4,574.4 226.9,574.8 228.4,575.2 229.9,575.6 231.4,576.0 232.9,576.4 234.4,576.8 235.9,577.2 237.4,577.6 238.9,578.0 240.4,578.3 241.9,578.7 243.4,579.1 244.9,579.4 246.4,579.7 247.9,580.1 249.4,580.4 250.9,580.7 252.4,581.1 253.9,581.4 255.4,581.7 256.9,582.0 258.4,582.3 259.9,582.6 261.4,582.9 262.9,583.2 264.4,583.5 265.9,583.8 267.4,584.1 268.9,584.3 270.4,584.6 271.9,584.9 273.4,585.2 274.9,585.5 276.4,585.7 277.9,586.0 279.4,586.3 280.9,586.5 282.4,586.8 283.9,587.1 285.4,587.3 286.9,587.6 288.4,587.8 289.9,588.1 291.4,588.3 292.9,588.5 294.4,588.8 295.9,589.0 297.4,589.2 298.9,589.5 300.4,589.7 301.9,589.9 303.4,590.1 304.9,590.3 306.4,590.5 307.9,590.7 309.4,590.9 310.9,591.1 312.4,591.3 313.9,591.5 315.4,591.7 316.9,591.9 318.4,592.0 319.9,592.2 321.4,592.4 322.9,592.5 324.4,592.7 325.9,592.8 327.4,593.0 328.9,593.1 330.4,593.3 331.9,593.4 333.4,593.6 334.9,593.7 336.4,593.9 337.9,594.0 339.4,594.1 340.9,594.3 342.4,594.4 343.9,594.5 345.4,594.6 346.9,594.8 348.4,594.9 349.9,595.0 351.4,595.1 352.9,595.2 354.4,595.4 355.9,595.5 357.4,595.6 358.9,595.7 360.4,595.8 361.9,595.9 363.4,596.0 364.9,596.1 366.4,596.2 367.9,596.3 369.4,596.4 370.9,596.5 372.4,596.6 373.9,596.7 375.4,596.8 376.9,596.9 378.4,597.0 379.9,597.1 381.4,597.2 382.9,597.3 384.4,597.4 385.9,597.5 387.4,597.6 388.9,597.8 390.4,597.9 391.9,598.0 393.4,598.1 394.9,598.2 396.4,598.3 397.9,598.4 399.4,598.5 400.9,598.6 402.4,598.7 403.9,598.8 405.4,598.9 406.9,599.0 408.4,599.2 409.9,599.3 411.4,599.4 412.9,599.5 414.4,599.6 415.9,599.7 417.4,599.8 418.9,600.0 420.4,600.1 421.9,600.2 423.4,600.3 424.9,600.4 426.4,600.5 427.9,600.6 429.4,600.8 430.9,600.9 432.4,601.0 433.9,601.1 435.4,601.2 436.9,601.3 438.4,601.4 439.9,601.5 441.4,601.6 442.9,601.8 444.4,601.9 445.9,602.0 447.4,602.1 448.9,602.2 450.4,602.3 451.9,602.4 453.4,602.5 454.9,602.6 456.4,602.7 457.9,602.7 459.4,602.8 460.9,602.9 462.4,603.0 463.9,603.1 465.4,603.2 466.9,603.3 468.4,603.3 469.9,603.4 471.4,603.5 472.9,603.6 474.4,603.6 475.9,603.7 477.4,603.7 478.9,603.8 480.4,603.9 481.9,603.9 483.4,604.0 484.9,604.0 486.4,604.1 487.9,604.1 489.4,604.1 490.9,604.2 492.4,604.2 493.9,604.2 495.4,604.2 496.9,604.3 498.4,604.3 499.9,604.3 501.4,604.3 502.9,604.3 504.4,604.3 505.9,604.3 506.9,604.3" fill="none" stroke="#cc0a36" stroke-width="2.0" stroke-linejoin="round" stroke-linecap="butt" />
<path d="M200.0,565.6V563.9M210.8,569.7V568.0M221.2,573.1V571.4M224.3,574.0V572.3M227.5,575.0V573.3M236.4,577.4V575.7M244.3,579.3V577.6M251.5,580.9V579.2M256.0,581.8V580.1M262.4,583.1V581.4M268.7,584.3V582.6M274.7,585.4V583.7M277.8,586.0V584.3M282.6,586.8V585.1M287.0,587.6V585.9M293.3,588.6V586.9M301.1,589.8V588.1M308.3,590.8V589.1M313.0,591.4V589.7M317.1,591.9V590.2M320.2,592.2V590.5M322.1,592.4V590.7M323.9,592.6V590.9M327.9,593.0V591.3M331.1,593.4V591.7M334.5,593.7V592.0M340.2,594.2V592.5M344.1,594.5V592.8M348.1,594.9V593.2M350.5,595.1V593.4M352.1,595.2V593.5M354.8,595.4V593.7M356.8,595.5V593.8M360.2,595.8V594.1M365.5,596.2V594.5M369.4,596.4V594.7M371.3,596.6V594.9M375.8,596.9V595.2M379.8,597.1V595.4M383.5,597.4V595.7M387.6,597.7V596.0M391.1,597.9V596.2M394.6,598.2V596.5M396.7,598.3V596.6M400.6,598.6V596.9M404.4,598.9V597.2M405.8,599.0V597.3M408.9,599.2V597.5M411.9,599.4V597.7M414.2,599.6V597.9M416.7,599.8V598.1M419.1,600.0V598.3M422.7,600.2V598.5M425.1,600.4V598.7M428.5,600.7V599.0M430.4,600.8V599.1M433.9,601.1V599.4M437.5,601.4V599.7M439.8,601.5V599.8M442.4,601.7V600.0M446.0,602.0V600.3M449.0,602.2V600.5M451.4,602.3V600.6M453.0,602.4V600.7M454.9,602.6V600.9M457.9,602.7V601.0M459.3,602.8V601.1M462.9,603.0V601.3M464.6,603.1V601.4M468.2,603.3V601.6M470.0,603.4V601.7M473.8,603.6V601.9M476.8,603.7V602.0M479.2,603.8V602.1M481.6,603.9V602.2M484.5,604.0V602.3M487.1,604.1V602.4M489.0,604.1V602.4M490.5,604.2V602.5M493.0,604.2V602.5M496.6,604.3V602.6M499.4,604.3V602.6M500.5,604.3V602.6M503.9,604.3V602.6" stroke="#cc0a36" stroke-width="0.9" fill="none"/>
<text x="67.9" y="732.9" font-size="9.6" text-anchor="start" fill="#111" font-weight="normal" textLength="62" lengthAdjust="spacingAndGlyphs" stroke="#222" stroke-width="0.22" >Number at risk</text>
<line x1="66.2" y1="739.2" x2="66.2" y2="794.5" stroke="#000" stroke-width="1.5"/>
<line x1="65.5" y1="794" x2="506.5" y2="794" stroke="#000" stroke-width="1.5"/>
<line x1="61" y1="749.4" x2="66" y2="749.4" stroke="#000" stroke-width="1.1"/>
<text transform="translate(33.00,754.30) scale(0.6,1)" x="0" y="0" font-size="10.5" fill="#c8102e" stroke="#c8102e" stroke-width="0.35" textLength="39.2" lengthAdjust="spacing">IDH WT</text>
<text x="85.4" y="753.1999999999999" font-size="10.1" text-anchor="middle" fill="#111" font-weight="normal" textLength="23.4" lengthAdjust="spacingAndGlyphs" stroke="#222" stroke-width="0.22" >3946</text>
<text x="164.24" y="753.1999999999999" font-size="10.1" text-anchor="middle" fill="#111" font-weight="normal" textLength="23.4" lengthAdjust="spacingAndGlyphs" stroke="#222" stroke-width="0.22" >2283</text>
<text x="243.08" y="753.1999999999999" font-size="10.1" text-anchor="middle" fill="#111" font-weight="normal" textLength="23.4" lengthAdjust="spacingAndGlyphs" stroke="#222" stroke-width="0.22" >1614</text>
<text x="321.92" y="753.1999999999999" font-size="10.1" text-anchor="middle" fill="#111" font-weight="normal" textLength="23.4" lengthAdjust="spacingAndGlyphs" stroke="#222" stroke-width="0.22" >1292</text>
<text x="400.76" y="753.1999999999999" font-size="10.1" text-anchor="middle" fill="#111" font-weight="normal" textLength="23.4" lengthAdjust="spacingAndGlyphs" stroke="#222" stroke-width="0.22" >1040</text>
<text x="479.6" y="753.1999999999999" font-size="10.1" text-anchor="middle" fill="#111" font-weight="normal" textLength="17.5" lengthAdjust="spacingAndGlyphs" stroke="#222" stroke-width="0.22" >923</text>
<line x1="61" y1="766.5" x2="66" y2="766.5" stroke="#000" stroke-width="1.1"/>
<text transform="translate(23.50,771.40) scale(0.6,1)" x="0" y="0" font-size="10.5" fill="#2a64a3" stroke="#2a64a3" stroke-width="0.35" textLength="55.0" lengthAdjust="spacing">IDH2 R140</text>
<text x="85.4" y="770.3" font-size="10.1" text-anchor="middle" fill="#111" font-weight="normal" textLength="17.5" lengthAdjust="spacingAndGlyphs" stroke="#222" stroke-width="0.22" >445</text>
<text x="164.24" y="770.3" font-size="10.1" text-anchor="middle" fill="#111" font-weight="normal" textLength="17.5" lengthAdjust="spacingAndGlyphs" stroke="#222" stroke-width="0.22" >241</text>
<text x="243.08" y="770.3" font-size="10.1" text-anchor="middle" fill="#111" font-weight="normal" textLength="17.5" lengthAdjust="spacingAndGlyphs" stroke="#222" stroke-width="0.22" >183</text>
<text x="321.92" y="770.3" font-size="10.1" text-anchor="middle" fill="#111" font-weight="normal" textLength="17.5" lengthAdjust="spacingAndGlyphs" stroke="#222" stroke-width="0.22" >148</text>
<text x="400.76" y="770.3" font-size="10.1" text-anchor="middle" fill="#111" font-weight="normal" textLength="17.5" lengthAdjust="spacingAndGlyphs" stroke="#222" stroke-width="0.22" >113</text>
<text x="479.6" y="770.3" font-size="10.1" text-anchor="middle" fill="#111" font-weight="normal" textLength="11.7" lengthAdjust="spacingAndGlyphs" stroke="#222" stroke-width="0.22" >95</text>
<line x1="61" y1="783.5" x2="66" y2="783.5" stroke="#000" stroke-width="1.1"/>
<text transform="translate(24.80,788.40) scale(0.6,1)" x="0" y="0" font-size="10.5" fill="#37b34a" stroke="#37b34a" stroke-width="0.35" textLength="52.8" lengthAdjust="spacing">IDH2 R172</text>
<text x="85.4" y="787.3" font-size="10.1" text-anchor="middle" fill="#111" font-weight="normal" textLength="17.5" lengthAdjust="spacingAndGlyphs" stroke="#222" stroke-width="0.22" >110</text>
<text x="164.24" y="787.3" font-size="10.1" text-anchor="middle" fill="#111" font-weight="normal" textLength="11.7" lengthAdjust="spacingAndGlyphs" stroke="#222" stroke-width="0.22" >73</text>
<text x="243.08" y="787.3" font-size="10.1" text-anchor="middle" fill="#111" font-weight="normal" textLength="11.7" lengthAdjust="spacingAndGlyphs" stroke="#222" stroke-width="0.22" >49</text>
<text x="321.92" y="787.3" font-size="10.1" text-anchor="middle" fill="#111" font-weight="normal" textLength="11.7" lengthAdjust="spacingAndGlyphs" stroke="#222" stroke-width="0.22" >31</text>
<text x="400.76" y="787.3" font-size="10.1" text-anchor="middle" fill="#111" font-weight="normal" textLength="11.7" lengthAdjust="spacingAndGlyphs" stroke="#222" stroke-width="0.22" >25</text>
<text x="479.6" y="787.3" font-size="10.1" text-anchor="middle" fill="#111" font-weight="normal" textLength="11.7" lengthAdjust="spacingAndGlyphs" stroke="#222" stroke-width="0.22" >19</text>
<line x1="85.4" y1="794.5" x2="85.4" y2="798.5" stroke="#000" stroke-width="1.1"/>
<text x="85.4" y="811.5" font-size="10.2" text-anchor="middle" fill="#111" font-weight="normal" textLength="6.0" lengthAdjust="spacingAndGlyphs" stroke="#222" stroke-width="0.22" >0</text>
<line x1="164.24" y1="794.5" x2="164.24" y2="798.5" stroke="#000" stroke-width="1.1"/>
<text x="164.24" y="811.5" font-size="10.2" text-anchor="middle" fill="#111" font-weight="normal" textLength="12.0" lengthAdjust="spacingAndGlyphs" stroke="#222" stroke-width="0.22" >12</text>
<line x1="243.08" y1="794.5" x2="243.08" y2="798.5" stroke="#000" stroke-width="1.1"/>
<text x="243.08" y="811.5" font-size="10.2" text-anchor="middle" fill="#111" font-weight="normal" textLength="12.0" lengthAdjust="spacingAndGlyphs" stroke="#222" stroke-width="0.22" >24</text>
<line x1="321.92" y1="794.5" x2="321.92" y2="798.5" stroke="#000" stroke-width="1.1"/>
<text x="321.92" y="811.5" font-size="10.2" text-anchor="middle" fill="#111" font-weight="normal" textLength="12.0" lengthAdjust="spacingAndGlyphs" stroke="#222" stroke-width="0.22" >36</text>
<line x1="400.76" y1="794.5" x2="400.76" y2="798.5" stroke="#000" stroke-width="1.1"/>
<text x="400.76" y="811.5" font-size="10.2" text-anchor="middle" fill="#111" font-weight="normal" textLength="12.0" lengthAdjust="spacingAndGlyphs" stroke="#222" stroke-width="0.22" >48</text>
<line x1="479.6" y1="794.5" x2="479.6" y2="798.5" stroke="#000" stroke-width="1.1"/>
<text x="479.6" y="811.5" font-size="10.2" text-anchor="middle" fill="#111" font-weight="normal" textLength="12.0" lengthAdjust="spacingAndGlyphs" stroke="#222" stroke-width="0.22" >60</text>
<text x="273.2" y="822.5" font-size="10.2" text-anchor="start" fill="#111" font-weight="normal" textLength="20.8" lengthAdjust="spacingAndGlyphs" stroke="#222" stroke-width="0.22" >Time</text>
<rect x="0" y="0" width="520" height="1.6" fill="#000"/><rect x="0" y="0" width="1.6" height="832" fill="#000"/><rect x="518.1" y="0" width="1.9" height="832" fill="#000"/><rect x="0" y="830.1" width="520" height="1.9" fill="#000"/>
</svg>
</body></html>
